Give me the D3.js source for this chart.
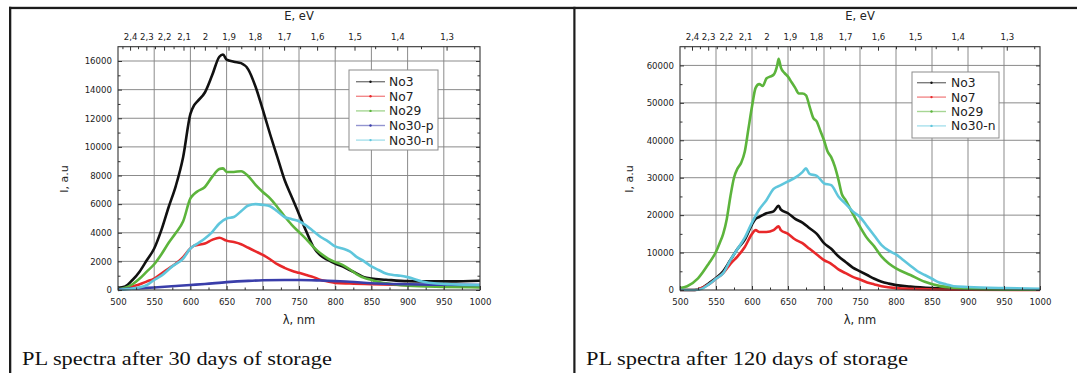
<!DOCTYPE html>
<html>
<head>
<meta charset="utf-8">
<script src="https://cdn.jsdelivr.net/npm/d3@7"></script>
<style>
  html, body { margin: 0; padding: 0; background: #fff; }
  svg { display: block; }
</style>
</head>
<body>
<svg id="chart" width="1077" height="373"></svg>
<script>
// ---- PL spectra after 30 days of storage ----
const wl30_No3 = [500,510,520,530,540,550,560,570,580,590,600,605,610,620,630,640,645,650,660,670,680,690,700,710,720,730,740,750,760,770,780,790,800,810,820,830,840,850,870,900,930,960,1000];
const I30_No3  = [150,250,700,1300,2100,2900,4200,5800,7300,9300,12300,12900,13200,13800,15000,16300,16450,16100,15950,15850,15400,14200,12600,10900,9300,7700,6500,5300,4100,3000,2400,2100,1850,1650,1400,1150,900,800,720,620,600,600,650];

const wl30_No7 = [500,510,520,530,540,550,560,570,580,590,600,605,610,620,630,640,650,660,670,680,690,700,710,720,730,740,750,760,770,780,790,800,820,850,900,950,1000];
const I30_No7  = [0,100,250,400,600,800,1150,1500,1850,2300,2900,3100,3150,3250,3500,3650,3450,3350,3200,2950,2700,2450,2150,1800,1550,1350,1200,1050,900,700,600,500,450,400,350,330,320];

const wl30_No29 = [500,510,520,530,540,550,560,570,580,590,600,605,610,620,630,640,645,650,660,670,680,690,700,710,720,730,740,750,760,770,780,790,800,810,820,830,840,850,860,880,900,950,1000];
const I30_No29  = [50,150,400,800,1300,1800,2500,3300,4000,4800,6400,6700,6900,7200,7900,8450,8500,8250,8250,8300,7950,7350,6850,6400,5800,5150,4550,4050,3550,3000,2550,2200,1950,1750,1450,1100,850,700,550,400,300,220,180];

const wl30_No30p = [500,520,550,580,600,620,650,680,700,730,750,780,800,820,850,900,950,1000];
const I30_No30p  = [50,100,180,280,350,420,550,640,680,700,700,660,620,580,470,400,370,350];

const wl30_No30n = [500,520,540,550,560,575,590,600,610,620,630,640,650,660,670,680,690,700,710,720,730,740,750,760,770,780,790,800,810,820,830,840,850,860,870,880,890,900,920,940,960,1000];
const I30_No30n  = [0,100,350,700,1000,1650,2200,2900,3250,3600,4050,4650,5000,5100,5500,5900,6000,5950,5850,5500,5100,4950,4800,4500,4100,3700,3400,3050,2900,2700,2300,2000,1650,1400,1150,1050,1000,900,600,450,400,350];

// ---- PL spectra after 120 days of storage ----
const wl120_No3 = [500,520,530,540,550,560,570,580,590,600,605,610,620,630,637,640,650,660,670,680,690,700,710,720,730,740,750,760,770,780,790,800,820,850,900,1000];
const I120_No3  = [0,0,500,1800,3200,5000,8000,11000,13500,17500,19000,19500,20500,21000,22500,21500,20500,19000,18000,16500,15000,12500,11000,9000,7500,6000,5000,4000,3000,2200,1700,1300,900,500,200,100];

const wl120_No7 = [500,520,525,540,550,560,570,580,590,600,605,610,620,630,637,640,650,660,670,680,690,700,710,720,730,740,750,760,770,780,800,850,900,1000];
const I120_No7  = [0,0,200,1500,3000,4500,7000,9000,11500,15000,16000,15500,15500,16000,17000,16000,15000,13500,12500,11000,9500,8000,7000,5500,4500,3500,2800,2000,1500,1000,500,150,50,0];

const wl120_No29 = [500,510,525,540,550,555,560,565,570,575,580,585,590,595,600,605,610,615,620,625,630,635,637,640,645,650,655,660,665,670,675,680,685,690,695,700,705,710,715,720,725,730,740,750,760,770,780,790,800,820,840,860,880,900,920,950,1000];
const I120_No29  = [500,1000,3100,7100,10200,12500,15000,19000,25000,30000,32500,34000,37000,43000,49000,54000,55000,54500,56500,57000,57500,60000,61800,59500,58000,57000,55500,54000,52500,52500,52000,49000,46000,45000,42500,40000,37000,35500,33000,29500,25500,24000,20400,16900,13800,11600,8900,7100,5800,4000,2200,1100,600,350,200,100,50];

const wl120_No30n = [500,520,530,540,550,560,570,580,590,600,610,620,630,640,650,660,670,675,680,690,700,710,720,730,740,750,760,770,780,790,800,810,820,830,840,850,860,870,880,900,950,1000];
const I120_No30n  = [0,0,300,1500,3000,4500,8000,11000,14000,18000,21500,24000,27000,28000,29000,30000,31500,32500,31000,30500,28500,28000,25000,23000,21000,19500,17000,14500,12000,10500,9500,8000,6500,5000,4000,3000,2000,1500,1000,800,500,300];

// Series names and colours
const names30  = ["No3", "No7", "No29", "No30-p", "No30-n"];
const names120 = ["No3", "No7", "No29", "No30-n"];
const colors = { "No3": "#111111", "No7": "#e8282a", "No29": "#5cb43c", "No30-p": "#3a3eaa", "No30-n": "#5fc6dc" };

// Axis ticks
const wlTicks = [500,550,600,650,700,750,800,850,900,950,1000];
const eTicks = [2.4,2.3,2.2,2.1,2.0,1.9,1.8,1.7,1.6,1.5,1.4,1.3];
const eMinorTicks = [2.45,2.35,2.25,2.15,2.05,1.95,1.85,1.75,1.65,1.55,1.45,1.35,1.25];
const yTicks30  = [0,2000,4000,6000,8000,10000,12000,14000,16000];
const yTicks120 = [0,10000,20000,30000,40000,50000,60000];
const HC = 1240; // eV·nm

const captions = ["PL spectra after 30 days of storage", "PL spectra after 120 days of storage"];

const svg = d3.select("#chart");
svg.append("rect").attr("width", 1077).attr("height", 373).attr("fill", "#fff");

// table frame
const frame = svg.append("g").attr("fill", "#1c1c1c");
frame.append("rect").attr("x", 9).attr("y", 6.8).attr("width", 1068).attr("height", 2.3);
frame.append("rect").attr("x", 9).attr("y", 6.8).attr("width", 2.3).attr("height", 367);
frame.append("rect").attr("x", 573.3).attr("y", 6.8).attr("width", 2.2).attr("height", 367);

const SANS = "'DejaVu Sans', sans-serif";
const SERIF = "'Liberation Serif', 'Times New Roman', serif";

function drawPanel(p) {
  const x = d3.scaleLinear().domain([500, 1000]).range([p.x0, p.x1]);
  const y = d3.scaleLinear().domain([0, p.yMax]).range([p.y1, p.y0]);
  const g = svg.append("g");

  // grid
  const grid = g.append("g").attr("stroke", "#858585").attr("stroke-width", 0.95);
  wlTicks.slice(1, -1).forEach(v => {
    grid.append("line").attr("x1", x(v)).attr("x2", x(v)).attr("y1", p.y0).attr("y2", p.y1);
  });
  p.yTicks.slice(1).forEach(v => {
    grid.append("line").attr("x1", p.x0).attr("x2", p.x1).attr("y1", y(v)).attr("y2", y(v));
  });

  // curves
  const line = d3.line().x(d => x(d[0])).y(d => y(d[1])).curve(d3.curveMonotoneX);
  p.series.forEach(s => {
    const pts = s.wl.map((w, i) => [w, s.I[i]]);
    g.append("path").datum(pts).attr("d", line)
      .attr("fill", "none").attr("stroke", colors[s.name])
      .attr("stroke-width", 2.6).attr("stroke-linejoin", "round");
  });

  // bottom axis (inward ticks)
  const bottom = g.append("g").attr("transform", `translate(0,${p.y1})`)
    .call(d3.axisBottom(x).tickValues(wlTicks).tickSize(-4).tickPadding(9).tickFormat(d3.format("d")));
  const bottomMinor = g.append("g").attr("transform", `translate(0,${p.y1})`)
    .call(d3.axisBottom(x).tickValues(d3.range(525, 1000, 50)).tickSize(-2.5).tickFormat(""));

  // top axis: photon energy E = hc / λ
  const top = g.append("g").attr("transform", `translate(0,${p.y0})`)
    .call(d3.axisTop(x).tickValues(eTicks.map(e => HC / e)).tickSize(-4).tickPadding(7)
      .tickFormat((d, i) => {
        const e = eTicks[i];
        return Math.abs(e - Math.round(e)) < 1e-9 ? String(Math.round(e)) : e.toFixed(1).replace(".", ",");
      }));
  const topMinor = g.append("g").attr("transform", `translate(0,${p.y0})`)
    .call(d3.axisTop(x).tickValues(eMinorTicks.map(e => HC / e)).tickSize(-2.5).tickFormat(""));

  // left & right axes
  const left = g.append("g").attr("transform", `translate(${p.x0},0)`)
    .call(d3.axisLeft(y).tickValues(p.yTicks).tickSize(-4).tickPadding(6).tickFormat(d3.format("d")));
  const minorY = d3.range(p.yStep / 2, p.yMax, p.yStep);
  const leftMinor = g.append("g").attr("transform", `translate(${p.x0},0)`)
    .call(d3.axisLeft(y).tickValues(minorY).tickSize(-2.5).tickFormat(""));
  const right = g.append("g").attr("transform", `translate(${p.x1},0)`)
    .call(d3.axisRight(y).tickValues(p.yTicks).tickSize(-4).tickFormat(""));
  const rightMinor = g.append("g").attr("transform", `translate(${p.x1},0)`)
    .call(d3.axisRight(y).tickValues(minorY).tickSize(-2.5).tickFormat(""));

  [bottom, bottomMinor, top, topMinor, left, leftMinor, right, rightMinor].forEach(a => {
    a.select(".domain").remove();
    a.selectAll(".tick line").attr("stroke", "#333").attr("stroke-width", 1);
    a.selectAll("text").attr("font-family", SANS).attr("font-size", 8.6).attr("fill", "#222");
  });

  // frame
  g.append("rect").attr("x", p.x0).attr("y", p.y0)
    .attr("width", p.x1 - p.x0).attr("height", p.y1 - p.y0)
    .attr("fill", "none").attr("stroke", "#333").attr("stroke-width", 1.1);

  // axis titles
  g.append("text").attr("x", (p.x0 + p.x1) / 2).attr("y", 20)
    .attr("text-anchor", "middle").attr("font-family", SANS).attr("font-size", 11.5).attr("fill", "#222")
    .text("E, eV");
  g.append("text").attr("x", (p.x0 + p.x1) / 2).attr("y", 324)
    .attr("text-anchor", "middle").attr("font-family", SANS).attr("font-size", 11.5).attr("fill", "#222")
    .text("λ, nm");
  g.append("text").attr("transform", `translate(${p.yLabelX},179) rotate(-90)`)
    .attr("text-anchor", "middle").attr("font-family", SANS).attr("font-size", 11).attr("fill", "#222")
    .text("I, a.u");

  // legend
  const lg = g.append("g");
  lg.append("rect").attr("x", p.legend.x0).attr("y", p.legend.y0)
    .attr("width", p.legend.x1 - p.legend.x0).attr("height", p.legend.y1 - p.legend.y0)
    .attr("fill", "#fff").attr("stroke", "#8c8c8c").attr("stroke-width", 1);
  p.series.forEach((s, i) => {
    const cy = p.legend.row0 + i * p.legend.rowStep;
    lg.append("line").attr("x1", p.legend.lx0).attr("x2", p.legend.lx1)
      .attr("y1", cy).attr("y2", cy).attr("stroke", colors[s.name])
      .attr("stroke-opacity", 0.55).attr("stroke-width", 1.4);
    lg.append("circle").attr("cx", (p.legend.lx0 + p.legend.lx1) / 2).attr("cy", cy)
      .attr("r", 1.2).attr("fill", colors[s.name]);
    lg.append("text").attr("x", p.legend.tx).attr("y", cy + 4.4)
      .attr("font-family", SANS).attr("font-size", 12.3).attr("fill", "#222")
      .text(s.name);
  });

  // caption
  const cap = svg.append("text").attr("font-family", SERIF).attr("font-size", 19.5).attr("fill", "#111")
    .text(p.caption);
  const w = cap.node().getComputedTextLength();
  cap.attr("transform", `translate(${p.capX},365) scale(${p.capW / w},1)`);
}

drawPanel({
  x0: 118, x1: 480, y0: 46.7, y1: 290, yMax: 17000, yStep: 2000, yTicks: yTicks30,
  yLabelX: 68,
  series: [
    { name: names30[0], wl: wl30_No3,   I: I30_No3 },
    { name: names30[1], wl: wl30_No7,   I: I30_No7 },
    { name: names30[2], wl: wl30_No29,  I: I30_No29 },
    { name: names30[3], wl: wl30_No30p, I: I30_No30p },
    { name: names30[4], wl: wl30_No30n, I: I30_No30n }
  ],
  legend: { x0: 349, x1: 438, y0: 70, y1: 150, row0: 81.7, rowStep: 14.6, lx0: 356, lx1: 385, tx: 389 },
  caption: captions[0], capX: 22, capW: 310
});

drawPanel({
  x0: 680, x1: 1040, y0: 46.7, y1: 290, yMax: 65000, yStep: 10000, yTicks: yTicks120,
  yLabelX: 633,
  series: [
    { name: names120[0], wl: wl120_No3,   I: I120_No3 },
    { name: names120[1], wl: wl120_No7,   I: I120_No7 },
    { name: names120[2], wl: wl120_No29,  I: I120_No29 },
    { name: names120[3], wl: wl120_No30n, I: I120_No30n }
  ],
  legend: { x0: 912, x1: 999, y0: 72, y1: 138, row0: 82.7, rowStep: 14.4, lx0: 917, lx1: 946, tx: 951 },
  caption: captions[1], capX: 586, capW: 322
});
</script>
</body>
</html>
